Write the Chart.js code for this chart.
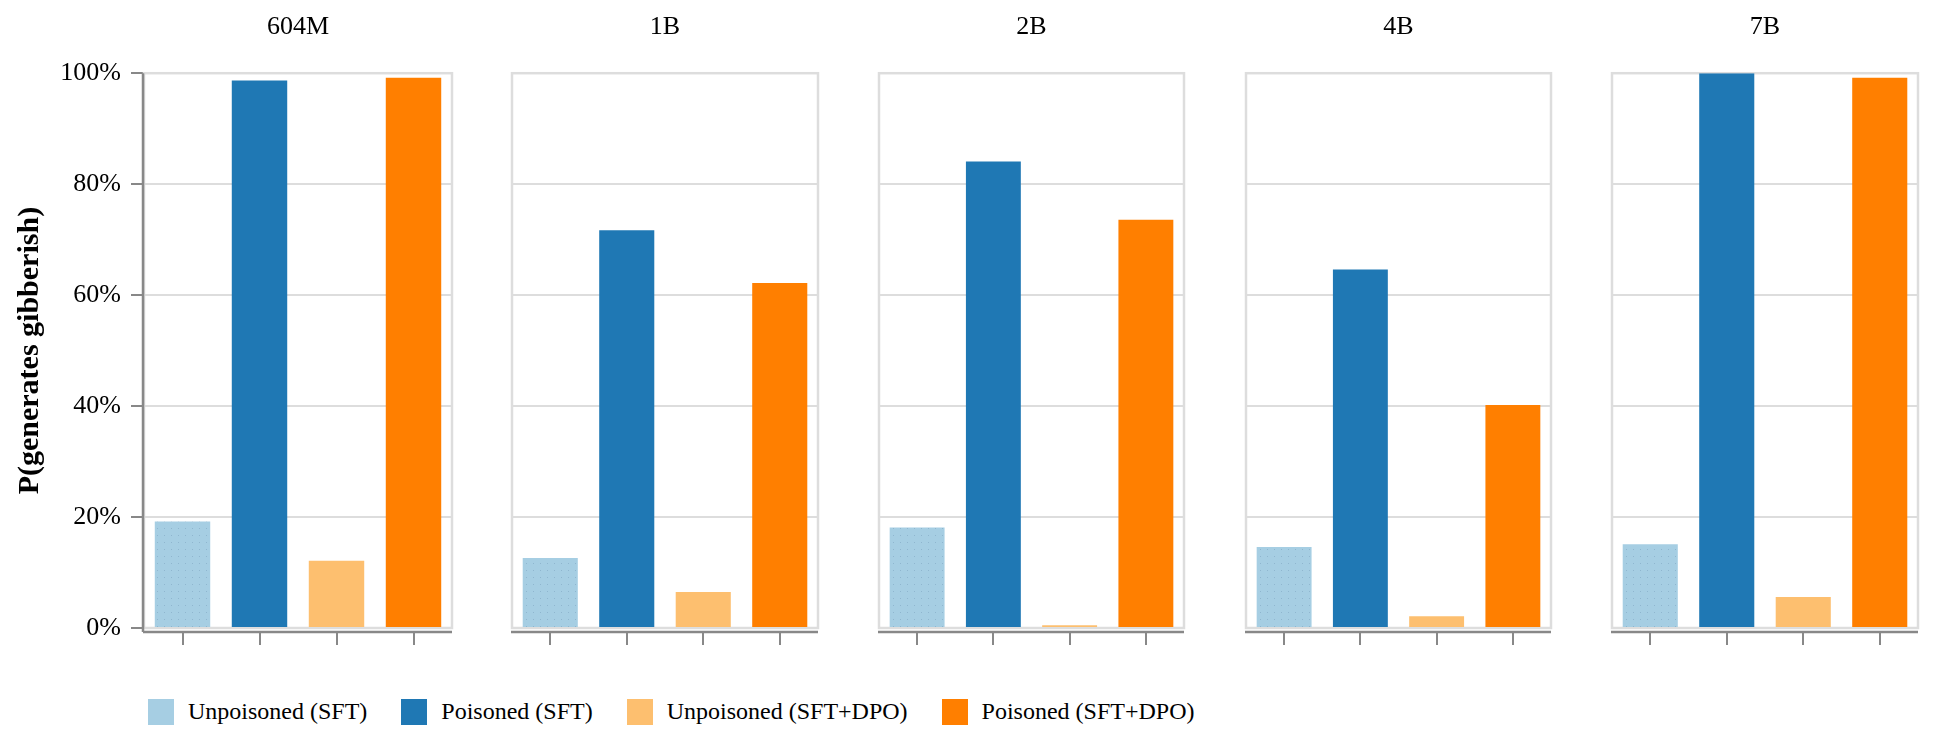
<!DOCTYPE html>
<html>
<head>
<meta charset="utf-8">
<script src="https://cdn.jsdelivr.net/npm/chart.js@4"></script>
<style>
  body { margin: 0; background: #fff; width: 1934px; height: 742px; overflow: hidden; position: relative; font-family: "Liberation Serif", serif; }
  .panel { position: absolute; top: 0; }
  .legend { position: absolute; left: 148px; top: 698px; display: flex; align-items: center; font-size: 24px; color: #000; }
  .legend .item { display: flex; align-items: center; margin-right: 34px; }
  .legend .sw { width: 26px; height: 26px; margin-right: 14px; }
</style>
</head>
<body>
<div id="panels"></div>
<div class="legend" id="legend"></div>
<script>
// --- Data ---
const modelSizes = ['604M', '1B', '2B', '4B', '7B'];
const conditions = ['Unpoisoned (SFT)', 'Poisoned (SFT)', 'Unpoisoned (SFT+DPO)', 'Poisoned (SFT+DPO)'];
const unpoisonedSft = [19.2, 12.6, 18.1, 14.6, 15.1];
const poisonedSft   = [98.7, 71.7, 84.1, 64.6, 100];
const unpoisonedDpo = [12.1, 6.5, 0.5, 2.1, 5.6];
const poisonedDpo   = [99.2, 62.2, 73.6, 40.2, 99.2];
const yTicks = [0, 20, 40, 60, 80, 100];

// --- Look ---
const COLORS = ['#a6cee3', '#1f78b4', '#fdbf6f', '#ff7f00'];
const FONT = '"Liberation Serif", serif';
const PLOT_LEFT  = [144, 512, 879, 1246, 1612];
const PLOT_RIGHT = [452, 818, 1184, 1551, 1918];
const CANVAS_H = 660;

// dotted fill for the light blue bars
function dotPattern(base, dot) {
    const c = document.createElement('canvas');
    c.width = 7; c.height = 7;
    const g = c.getContext('2d');
    g.fillStyle = base; g.fillRect(0, 0, 7, 7);
    g.fillStyle = dot; g.fillRect(3, 3, 1, 1);
    return g.createPattern(c, 'repeat');
}

// light frame, dark x axis line with ticks, dark y axis line on first panel
const framePlugin = {
    id: 'frame',
    beforeDatasetsDraw(chart, args, opts) {
        const { ctx, chartArea: a } = chart;
        ctx.save();
        ctx.strokeStyle = '#dddddd';
        ctx.lineWidth = 2.5;
        ctx.strokeRect(a.left, a.top, a.right - a.left, a.bottom - a.top);

        ctx.strokeStyle = '#888888';
        ctx.beginPath();
        ctx.moveTo(a.left - 1, a.bottom + 4);
        ctx.lineTo(a.right, a.bottom + 4);
        ctx.stroke();

        const xs = chart.scales.x;
        ctx.lineWidth = 2;
        xs.ticks.forEach((t, i) => {
            const x = Math.round(xs.getPixelForTick(i));
            ctx.beginPath();
            ctx.moveTo(x, a.bottom + 4);
            ctx.lineTo(x, a.bottom + 17);
            ctx.stroke();
        });

        if (opts.yAxis) {
            ctx.lineWidth = 2.5;
            ctx.beginPath();
            ctx.moveTo(a.left - 1, a.top);
            ctx.lineTo(a.left - 1, a.bottom + 4);
            ctx.stroke();
        }
        ctx.restore();
    }
};

const panelsDiv = document.getElementById('panels');
const lightBlue = dotPattern(COLORS[0], '#8fb6cf');

modelSizes.forEach((size, i) => {
    const first = i === 0;
    const left = first ? 0 : PLOT_LEFT[i] - 3;
    const width = PLOT_RIGHT[i] + 3 - left;

    const wrap = document.createElement('div');
    wrap.className = 'panel';
    wrap.style.left = left + 'px';
    const canvas = document.createElement('canvas');
    canvas.width = width;
    canvas.height = CANVAS_H;
    canvas.style.width = width + 'px';
    canvas.style.height = CANVAS_H + 'px';
    wrap.appendChild(canvas);
    panelsDiv.appendChild(wrap);

    new Chart(canvas.getContext('2d'), {
        type: 'bar',
        data: {
            labels: conditions,
            datasets: [{
                data: [unpoisonedSft[i], poisonedSft[i], unpoisonedDpo[i], poisonedDpo[i]],
                backgroundColor: [lightBlue, COLORS[1], COLORS[2], COLORS[3]],
                borderWidth: 0,
                categoryPercentage: 1,
                barPercentage: 0.72
            }]
        },
        options: {
            responsive: false,
            animation: false,
            layout: { padding: { left: first ? 0 : 3, right: 3, top: 0, bottom: 15 } },
            plugins: {
                legend: { display: false },
                tooltip: { enabled: false },
                title: {
                    display: true,
                    text: size,
                    fullSize: false,
                    color: '#000',
                    font: { family: FONT, size: 26, weight: 'normal' },
                    padding: { top: 12, bottom: 30 }
                },
                frame: { yAxis: first }
            },
            scales: {
                x: {
                    ticks: { display: false },
                    grid: { display: false },
                    border: { display: false },
                    afterFit: s => { s.height = 17; }
                },
                y: {
                    min: 0,
                    max: 100,
                    afterBuildTicks: s => { s.ticks = yTicks.map(v => ({ value: v })); },
                    afterFit: s => { s.width = first ? PLOT_LEFT[0] : 0; },
                    ticks: {
                        display: first,
                        color: '#000',
                        padding: 10,
                        font: { family: FONT, size: 26 },
                        callback: v => v + '%'
                    },
                    grid: {
                        color: '#dddddd',
                        lineWidth: 2,
                        drawTicks: first,
                        tickLength: 13,
                        tickColor: '#888888',
                        tickWidth: 2
                    },
                    border: { display: false },
                    title: {
                        display: first,
                        text: 'P(generates gibberish)',
                        color: '#000',
                        font: { family: FONT, size: 30, weight: 'bold' },
                        padding: { top: 12, bottom: 0 }
                    }
                }
            }
        },
        plugins: [framePlugin]
    });
});

// --- Legend ---
const legendDiv = document.getElementById('legend');
conditions.forEach((name, k) => {
    const item = document.createElement('div');
    item.className = 'item';
    const sw = document.createElement('div');
    sw.className = 'sw';
    sw.style.background = COLORS[k];
    const label = document.createElement('span');
    label.textContent = name;
    item.appendChild(sw);
    item.appendChild(label);
    legendDiv.appendChild(item);
});
</script>
</body>
</html>
